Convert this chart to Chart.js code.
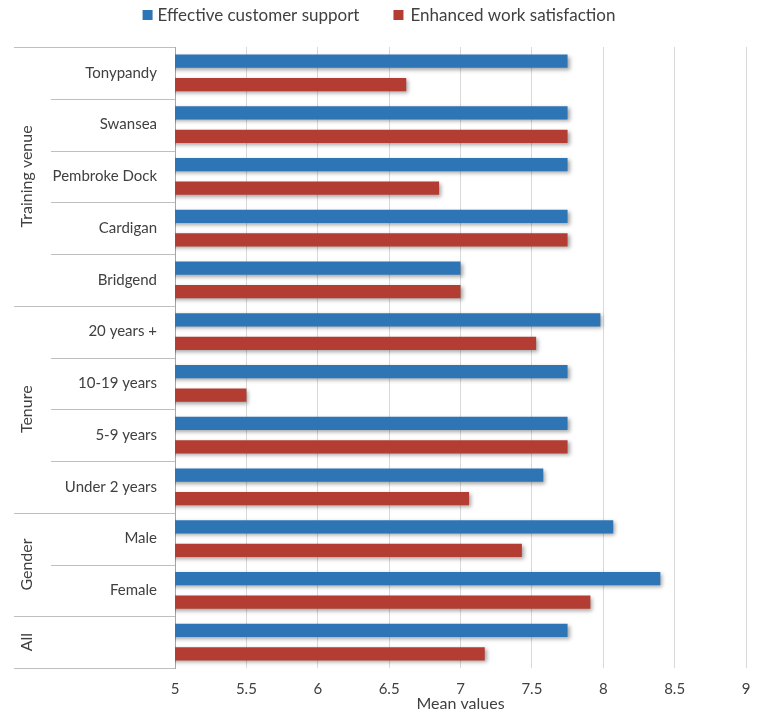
<!DOCTYPE html>
<html>
<head>
<meta charset="utf-8">
<script src="https://cdn.jsdelivr.net/npm/chart.js@4/dist/chart.umd.min.js"></script>
<style>
  html, body { margin: 0; padding: 0; background: #fff; }
  #wrap { width: 760px; height: 713px; }
</style>
</head>
<body>
<div id="wrap"><canvas id="chart"></canvas></div>
<script>
// categories, top to bottom
const categories = [
  "Tonypandy", "Swansea", "Pembroke Dock", "Cardigan", "Bridgend",
  "20 years +", "10-19 years", "5-9 years", "Under 2 years",
  "Male", "Female", ""
];
// group labels and how many categories each covers
const groups = ["Training venue", "Tenure", "Gender", "All"];
const groupSizes = [5, 4, 2, 1];

const seriesNames = ["Effective customer support", "Enhanced work satisfaction"];
const seriesColors = ["#2E75B6", "#B33C33"];
const customerSupport = [7.75, 7.75, 7.75, 7.75, 7.0, 7.98, 7.75, 7.75, 7.58, 8.07, 8.4, 7.75];
const workSatisfaction = [6.62, 7.75, 6.85, 7.75, 7.0, 7.53, 5.5, 7.75, 7.06, 7.43, 7.91, 7.17];

const FONT = "Lato, 'Open Sans', sans-serif";
const TEXT = "#404040";

// soft drop shadow on bars
const barShadow = {
  id: "barShadow",
  beforeDatasetsDraw(chart) {
    const ctx = chart.ctx;
    ctx.save();
    ctx.shadowColor = "rgba(0,0,0,0.35)";
    ctx.shadowBlur = 4;
    ctx.shadowOffsetX = 2;
    ctx.shadowOffsetY = 2;
  },
  afterDatasetsDraw(chart) {
    chart.ctx.restore();
  }
};

// legend drawn by hand so the item spacing matches
const topLegend = {
  id: "topLegend",
  afterDraw(chart) {
    const ctx = chart.ctx;
    ctx.save();
    ctx.font = "17px " + FONT;
    ctx.textBaseline = "middle";
    const w = seriesNames.map(n => ctx.measureText(n).width);
    const total = 10 + 5 + w[0] + 34 + 10 + 7 + w[1];
    let x = 379 - total / 2;
    seriesNames.forEach((n, i) => {
      ctx.fillStyle = seriesColors[i];
      ctx.fillRect(x, 10, 10, 10);
      x += 10 + (i === 0 ? 5 : 7);
      ctx.fillStyle = TEXT;
      ctx.fillText(n, x, 16);
      x += w[i] + 34;
    });
    ctx.restore();
  }
};

// group labels and separators on the left
const groupAxis = {
  id: "groupAxis",
  afterDraw(chart) {
    const ctx = chart.ctx;
    const area = chart.chartArea;
    const step = (area.bottom - area.top) / categories.length;
    const left = 14, inner = 51;
    ctx.save();
    ctx.strokeStyle = "#bfbfbf";
    ctx.lineWidth = 1;
    ctx.beginPath();
    ctx.moveTo(left, Math.round(area.top) + 0.5);
    ctx.lineTo(area.left, Math.round(area.top) + 0.5);
    ctx.stroke();
    let idx = 0;
    groups.forEach((g, gi) => {
      const start = idx;
      const end = idx + groupSizes[gi];
      for (let k = start + 1; k <= end; k++) {
        const yy = Math.round(area.top + k * step) + 0.5;
        ctx.beginPath();
        ctx.moveTo(k === end ? left : inner, yy);
        ctx.lineTo(area.left, yy);
        ctx.stroke();
      }
      const mid = area.top + (start + end) / 2 * step;
      ctx.save();
      ctx.translate(27, mid);
      ctx.rotate(-Math.PI / 2);
      ctx.fillStyle = TEXT;
      ctx.font = "16px " + FONT;
      ctx.textAlign = "center";
      ctx.textBaseline = "middle";
      ctx.fillText(g, 0, 0);
      ctx.restore();
      idx = end;
    });
    ctx.restore();
  }
};

new Chart(document.getElementById("chart"), {
  type: "bar",
  data: {
    labels: categories,
    datasets: [
      {
        label: seriesNames[0],
        data: customerSupport,
        backgroundColor: seriesColors[0],
        categoryPercentage: 0.91,
        barPercentage: 0.56
      },
      {
        label: seriesNames[1],
        data: workSatisfaction,
        backgroundColor: seriesColors[1],
        categoryPercentage: 0.91,
        barPercentage: 0.56
      }
    ]
  },
  options: {
    indexAxis: "y",
    responsive: true,
    maintainAspectRatio: false,
    animation: false,
    layout: { padding: { left: 0, right: 14, top: 47, bottom: 0 } },
    plugins: {
      legend: { display: false },
      tooltip: { enabled: false }
    },
    scales: {
      x: {
        min: 5,
        max: 9,
        ticks: {
          stepSize: 0.5,
          color: TEXT,
          padding: 12,
          font: { family: FONT, size: 15 },
          callback: v => String(v)
        },
        grid: { color: "#d9d9d9", drawTicks: false },
        border: { display: false },
        title: {
          display: true,
          text: "Mean values",
          color: TEXT,
          padding: 0,
          font: { family: FONT, size: 16 }
        },
        afterFit(scale) {
          scale.height = 45;
          scale.paddingRight = 0;
        }
      },
      y: {
        ticks: {
          color: TEXT,
          padding: 10,
          font: { family: FONT, size: 15 }
        },
        grid: { display: false },
        border: { display: true, color: "#a6a6a6" },
        afterFit(scale) { scale.width = 175; }
      }
    }
  },
  plugins: [barShadow, groupAxis, topLegend]
});
</script>
</body>
</html>
